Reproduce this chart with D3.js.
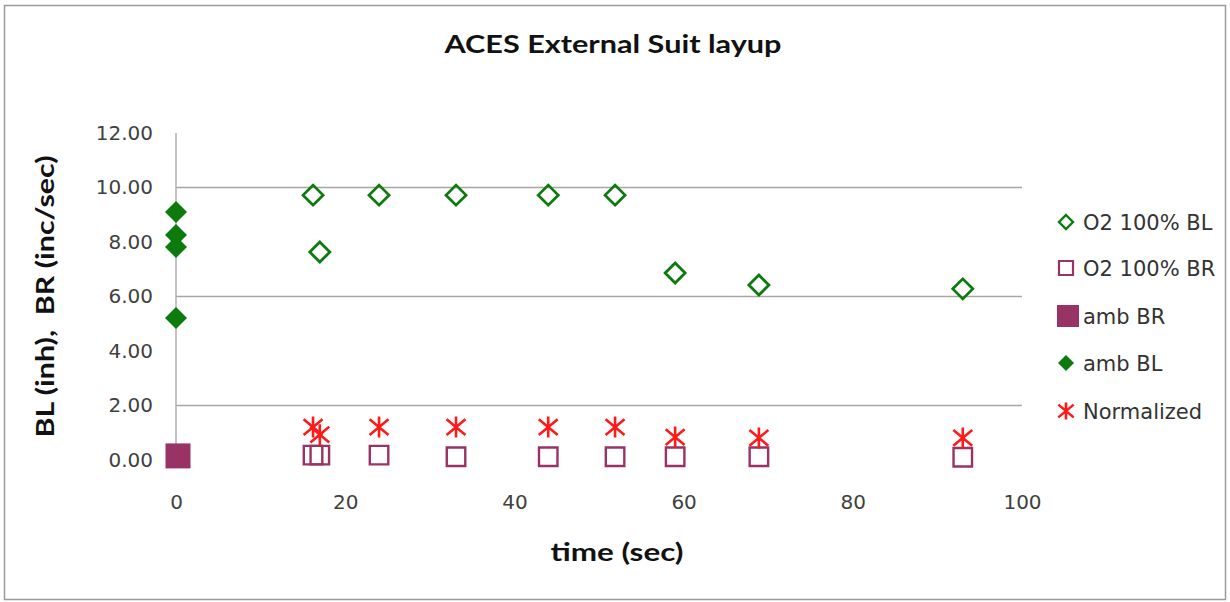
<!DOCTYPE html>
<html>
<head>
<meta charset="utf-8">
<script src="https://cdn.jsdelivr.net/npm/d3@7"></script>
<style>
  html, body { margin: 0; padding: 0; background: #fff; }
  svg { display: block; }
  text { font-family: "DejaVu Sans", sans-serif; }
</style>
</head>
<body>
<svg id="chart" width="1230" height="602"></svg>
<script>
// ---- data ----
const o2Time = [16.2, 17.0, 24.0, 33.1, 44.0, 51.9, 59.0, 68.9, 93.0];
const o2BL = [9.72, 7.63, 9.72, 9.72, 9.72, 9.72, 6.86, 6.42, 6.28];
const o2BR = [0.18, 0.18, 0.18, 0.12, 0.12, 0.12, 0.12, 0.12, 0.10];
const normalized = [1.21, 0.93, 1.21, 1.21, 1.21, 1.21, 0.84, 0.81, 0.81];
const ambTime = [0, 0, 0, 0];
const ambBL = [9.10, 8.26, 7.82, 5.21];
const ambBRTime = [0];
const ambBR = [0.15];
const yTicks = [0, 2, 4, 6, 8, 10, 12];
const yGrid = [2, 6, 10];
const xTicks = [0, 20, 40, 60, 80, 100];
const legendLabels = ["O2 100% BL", "O2 100% BR", "amb BR", "amb BL", "Normalized"];

const green = "#0d7a0d";
const purple = "#993366";
const red = "#ff1a1a";

const svg = d3.select("#chart");
svg.append("rect").attr("x", 4.5).attr("y", 5.5).attr("width", 1221).attr("height", 594)
  .attr("fill", "#fff").attr("stroke", "#9a9a9a").attr("stroke-width", 1.5);

const x = d3.scaleLinear().domain([0, 100]).range([176, 1022]);
const y = d3.scaleLinear().domain([0, 12]).range([460, 133]);

// gridlines
svg.append("g").selectAll("line").data(yGrid).join("line")
  .attr("x1", x(0)).attr("x2", x(100)).attr("y1", d => y(d)).attr("y2", d => y(d))
  .attr("stroke", "#a6a6a6").attr("stroke-width", 1.5);

// y axis line
svg.append("line").attr("x1", x(0)).attr("x2", x(0)).attr("y1", y(12)).attr("y2", y(0))
  .attr("stroke", "#b0b0b0").attr("stroke-width", 1.5);

// y tick labels
const yAxis = d3.axisLeft(y).tickValues(yTicks).tickFormat(d3.format(".2f")).tickSize(0).tickPadding(23);
const gy = svg.append("g").attr("transform", `translate(${x(0)},0)`).call(yAxis);
gy.select(".domain").remove();
gy.selectAll("text").attr("font-size", 20).attr("fill", "#404040").style("font-family", "'DejaVu Sans', sans-serif");

// x tick labels
const xAxis = d3.axisBottom(x).tickValues(xTicks).tickFormat(d3.format("d")).tickSize(0).tickPadding(35);
const gx = svg.append("g").attr("transform", `translate(0,${y(0)})`).call(xAxis);
gx.select(".domain").remove();
gx.selectAll("text").attr("font-size", 20).attr("fill", "#404040").style("font-family", "'DejaVu Sans', sans-serif");

// titles
const boldFont = "Lato, 'Open Sans', sans-serif";
svg.append("text").attr("x", 613).attr("y", 53).attr("text-anchor", "middle")
  .style("font-family", boldFont).attr("font-size", 25).attr("font-weight", "bold").attr("fill", "#111")
  .attr("textLength", 337).attr("lengthAdjust", "spacingAndGlyphs").text("ACES External Suit layup");
svg.append("text").attr("x", 617).attr("y", 561).attr("text-anchor", "middle")
  .style("font-family", boldFont).attr("font-size", 25).attr("font-weight", "bold").attr("fill", "#111")
  .attr("textLength", 133).attr("lengthAdjust", "spacingAndGlyphs").text("time (sec)");
svg.append("text").attr("transform", `translate(54,${(y(0) + y(12)) / 2}) rotate(-90)`)
  .attr("text-anchor", "middle").style("font-family", boldFont).attr("font-size", 25).attr("font-weight", "bold").attr("fill", "#111")
  .attr("textLength", 282).attr("lengthAdjust", "spacingAndGlyphs")
  .style("white-space", "pre").text("BL (inh),  BR (inc/sec)");

// marker shapes
const diamond = r => `M0,${-r}L${r},0L0,${r}L${-r},0Z`;
const square = s => `M${-s/2},${-s/2}h${s}v${s}h${-s}Z`;
const star = r => `M0,${-r}V${r}M${-r*0.9},${-r*0.75}L${r*0.9},${r*0.75}M${-r*0.9},${r*0.75}L${r*0.9},${-r*0.75}`;

const plot = svg.append("g");
// O2 100% BL
plot.selectAll(".o2bl").data(o2Time).join("path").attr("class", "o2bl")
  .attr("transform", (d, i) => `translate(${x(d)},${y(o2BL[i])})`)
  .attr("d", diamond(10)).attr("fill", "none").attr("stroke", green).attr("stroke-width", 2.8);
// O2 100% BR
plot.selectAll(".o2br").data(o2Time).join("path").attr("class", "o2br")
  .attr("transform", (d, i) => `translate(${x(d)},${y(o2BR[i])})`)
  .attr("d", square(18.5)).attr("fill", "none").attr("stroke", purple).attr("stroke-width", 2.4);
// amb BR
plot.selectAll(".ambbr").data(ambBRTime).join("path").attr("class", "ambbr")
  .attr("transform", (d, i) => `translate(${x(d) + 2},${y(ambBR[i])})`)
  .attr("d", square(25)).attr("fill", purple);
// amb BL
plot.selectAll(".ambbl").data(ambTime).join("path").attr("class", "ambbl")
  .attr("transform", (d, i) => `translate(${x(d)},${y(ambBL[i])})`)
  .attr("d", diamond(11)).attr("fill", green);
// Normalized
plot.selectAll(".norm").data(o2Time).join("path").attr("class", "norm")
  .attr("transform", (d, i) => `translate(${x(d)},${y(normalized[i])})`)
  .attr("d", star(10.5)).attr("fill", "none").attr("stroke", red).attr("stroke-width", 2.6);

// legend
const legY = [222, 268, 316, 363, 411];
const leg = svg.append("g");
legendLabels.forEach((lab, i) => {
  const g = leg.append("g").attr("transform", `translate(1066,${legY[i]})`);
  if (i === 0) g.append("path").attr("d", diamond(7)).attr("fill", "none").attr("stroke", green).attr("stroke-width", 2.4);
  if (i === 1) g.append("path").attr("d", square(14)).attr("fill", "none").attr("stroke", purple).attr("stroke-width", 2.2);
  if (i === 2) g.append("path").attr("transform", "translate(2,0)").attr("d", square(22)).attr("fill", purple);
  if (i === 3) g.append("path").attr("d", diamond(8)).attr("fill", green);
  if (i === 4) g.append("path").attr("d", star(8.5)).attr("fill", "none").attr("stroke", red).attr("stroke-width", 2.6);
  g.append("text").attr("x", 17).attr("y", 0).attr("dy", "0.36em").attr("font-size", 21)
    .attr("fill", "#333").text(lab);
});
</script>
</body>
</html>
